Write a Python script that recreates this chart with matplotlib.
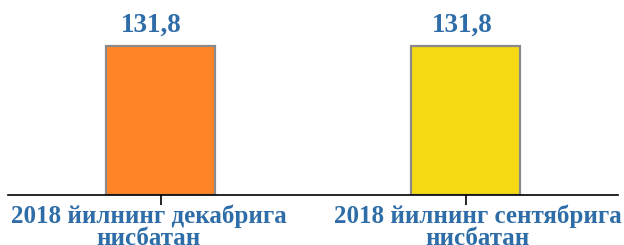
import matplotlib
matplotlib.use("Agg")
import matplotlib.pyplot as plt
from matplotlib.transforms import ScaledTranslation

# data
labels = ["2018 йилнинг декабрига\nнисбатан", "2018 йилнинг сентябрига\nнисбатан"]
values = [131.8, 131.8]
value_text = ["131,8", "131,8"]
colors = ["#FF8426", "#F5D912"]

blue = "#2E6DA8"

fig = plt.figure(figsize=(6.24, 2.45), dpi=100)
ax = fig.add_axes([8 / 624, 50 / 245, 610 / 624, 195 / 245])

x = range(len(values))
ax.bar(x, values, width=0.36, color=colors, edgecolor="#8A8A8A", linewidth=1.6, zorder=2)

# value labels sit a little off-centre in the original
val_shift = [-9, -3]
for i, v in enumerate(values):
    ax.annotate(value_text[i], (i, v), xytext=(val_shift[i] * 0.72, 6), textcoords="offset points",
                ha="center", va="bottom", fontsize=19.5, fontweight="bold",
                color=blue, family="Liberation Serif")

ax.set_xlim(-0.5, 1.5)
ax.set_ylim(0, 172.5)
ax.set_xticks(list(x))
ax.set_xticklabels(labels, fontsize=18, fontweight="bold", color=blue,
                   family="Liberation Serif", linespacing=0.95)
ax.tick_params(axis="x", length=7, width=1.2, color="black", pad=0)

lab_shift = [-12, 12]
for t, dx in zip(ax.get_xticklabels(), lab_shift):
    t.set_transform(t.get_transform() + ScaledTranslation(dx / 100, 0, fig.dpi_scale_trans))

ax.set_yticks([])
for s in ["top", "right", "left"]:
    ax.spines[s].set_visible(False)
ax.spines["bottom"].set_linewidth(1.2)
ax.patch.set_alpha(0)

fig.savefig("out.png", dpi=100)
